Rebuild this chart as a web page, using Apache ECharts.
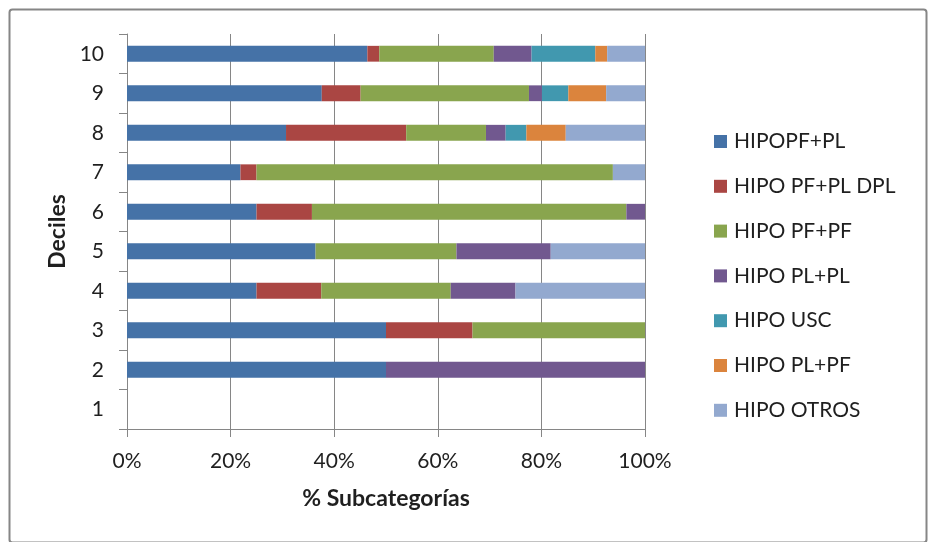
<!DOCTYPE html>
<html>
<head>
<meta charset="utf-8">
<script src="https://cdn.jsdelivr.net/npm/echarts@6/dist/echarts.min.js"></script>
<style>
  html, body { margin: 0; padding: 0; background: #ffffff; }
  #chart { width: 931px; height: 542px; }
</style>
</head>
<body>
<div id="chart"></div>
<script>
// Deciles 1..10 (bottom to top)
const deciles = ['1', '2', '3', '4', '5', '6', '7', '8', '9', '10'];

// Share of each subcategory per decile (%)
const hipoPfPl     = [0, 50, 50.0, 25.0, 36.4, 25.0, 21.9, 30.7, 37.6, 46.4];
const hipoPfPlDpl  = [0, 0, 16.7, 12.5, 0, 10.7, 3.1, 23.2, 7.5, 2.3];
const hipoPfPf     = [0, 0, 33.3, 25.0, 27.2, 60.7, 68.8, 15.4, 32.5, 22.1];
const hipoPlPl     = [0, 50, 0, 12.5, 18.2, 3.6, 0, 3.8, 2.5, 7.3];
const hipoUsc      = [0, 0, 0, 0, 0, 0, 0, 4.0, 5.1, 12.3];
const hipoPlPf     = [0, 0, 0, 0, 0, 0, 0, 7.6, 7.3, 2.3];
const hipoOtros    = [0, 0, 0, 25.0, 18.2, 0, 6.2, 15.3, 7.5, 7.3];

const seriesNames = ['HIPOPF+PL', 'HIPO PF+PL DPL', 'HIPO PF+PF', 'HIPO PL+PL', 'HIPO USC', 'HIPO PL+PF', 'HIPO OTROS'];
const seriesValues = [hipoPfPl, hipoPfPlDpl, hipoPfPf, hipoPlPl, hipoUsc, hipoPlPf, hipoOtros];
const palette = ['#4572A7', '#AA4643', '#89A54E', '#71588F', '#4198AF', '#DB843D', '#93A9CF'];

const xTicks = { min: 0, max: 100, interval: 20 };

const FONT = 'Lato';
const GRAY = '#868686';
const TEXT = '#1f1f1f';

const chart = echarts.init(document.getElementById('chart'), null, { renderer: 'canvas' });

chart.setOption({
  animation: false,
  backgroundColor: '#ffffff',
  color: palette,
  textStyle: { fontFamily: FONT },
  grid: { left: 127, right: 286, top: 34, bottom: 113, containLabel: false },
  legend: {
    orient: 'vertical',
    left: 709,
    top: 126,
    itemWidth: 13,
    itemHeight: 13,
    itemGap: 23.8,
    icon: 'rect',
    data: seriesNames,
    textStyle: { fontFamily: FONT, fontSize: 21, color: TEXT, padding: [0, 0, 0, 2] }
  },
  xAxis: {
    type: 'value',
    min: xTicks.min,
    max: xTicks.max,
    interval: xTicks.interval,
    name: '% Subcategorías',
    nameLocation: 'middle',
    nameGap: 58,
    nameTextStyle: { fontFamily: FONT, fontSize: 23, fontWeight: 'bold', color: TEXT },
    axisLine: { show: true, lineStyle: { color: GRAY, width: 1 } },
    axisTick: { show: true, length: 8, lineStyle: { color: GRAY } },
    axisLabel: { formatter: '{value}%', fontFamily: FONT, fontSize: 21, color: TEXT, margin: 22 },
    splitLine: { show: true, lineStyle: { color: GRAY, width: 1 } }
  },
  yAxis: {
    type: 'category',
    data: deciles,
    name: 'Deciles',
    nameLocation: 'middle',
    nameGap: 54,
    nameRotate: 90,
    nameTextStyle: { fontFamily: FONT, fontSize: 23, fontWeight: 'bold', color: TEXT },
    axisLine: { show: true, lineStyle: { color: GRAY, width: 1 } },
    axisTick: { show: true, length: 8, interval: 0, alignWithLabel: false, lineStyle: { color: GRAY } },
    axisLabel: { fontFamily: FONT, fontSize: 21, color: TEXT, margin: 23, interval: 0 },
    splitLine: { show: false }
  },
  graphic: [{
    type: 'rect',
    left: 7, top: 7,
    shape: { width: 917, height: 533, r: 3 },
    style: { fill: 'none', stroke: GRAY, lineWidth: 2 },
    z: -1
  }],
  series: seriesNames.map((name, i) => ({
    name: name,
    type: 'bar',
    stack: 'total',
    barWidth: '40%',
    data: seriesValues[i],
    itemStyle: { color: palette[i] }
  }))
});
</script>
</body>
</html>
